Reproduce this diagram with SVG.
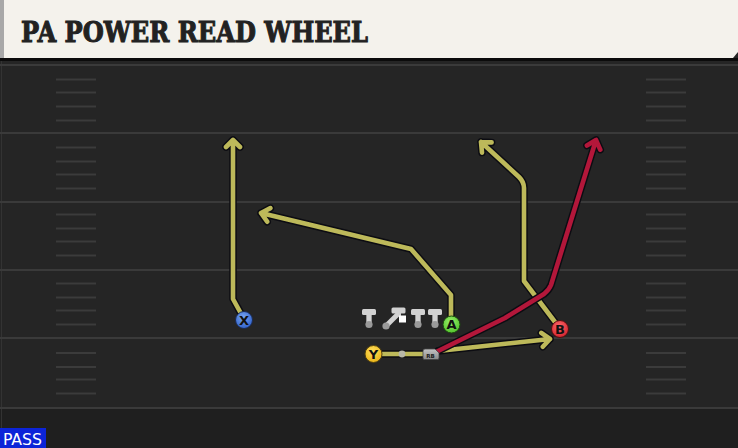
<svg xmlns="http://www.w3.org/2000/svg" width="738" height="448" viewBox="0 0 738 448">
<style>
.yl{stroke:#3a3a3a;stroke-width:2;fill:none}
.hash{stroke:#3b3b3b;stroke-width:2;fill:none}
.out{fill:none;stroke:#0c0c12;stroke-width:7.5;stroke-linejoin:round;stroke-linecap:round}
.ylw{fill:none;stroke:#bdb95a;stroke-width:4.6;stroke-linejoin:round;stroke-linecap:round}
.red{fill:none;stroke:#b3173a;stroke-width:4.6;stroke-linejoin:round;stroke-linecap:round}
.lbl{font-family:"DejaVu Sans",sans-serif;font-weight:bold;font-size:13px;fill:#111;text-anchor:middle}
.bar{fill:#d2d2d2}
.foot{fill:#9a9a9a}
</style>
<defs>
<radialGradient id="gB" cx="0.45" cy="0.35" r="0.7"><stop offset="0" stop-color="#7aa6f0"/><stop offset="1" stop-color="#2a5cc8"/></radialGradient>
<radialGradient id="gG" cx="0.45" cy="0.35" r="0.7"><stop offset="0" stop-color="#9af06a"/><stop offset="1" stop-color="#4cbf28"/></radialGradient>
<radialGradient id="gR" cx="0.45" cy="0.35" r="0.7"><stop offset="0" stop-color="#ff6a6a"/><stop offset="1" stop-color="#d01e2a"/></radialGradient>
<radialGradient id="gY" cx="0.45" cy="0.35" r="0.7"><stop offset="0" stop-color="#ffe060"/><stop offset="1" stop-color="#e8b010"/></radialGradient>
<linearGradient id="gRB" x1="0" y1="0" x2="0" y2="1"><stop offset="0" stop-color="#c4c4c4"/><stop offset="1" stop-color="#8a8a8a"/></linearGradient>
<g id="lin">
<rect class="foot" x="-2.5" y="4" width="5" height="10"/>
<rect class="bar" x="-7" y="-1" width="14" height="6" rx="1.5"/>
<rect class="bar" x="-2.5" y="4" width="5" height="9"/>
<circle class="foot" cx="0" cy="14.5" r="3.6"/>
</g>
</defs>
<!-- field -->
<rect x="0" y="0" width="738" height="448" fill="#252525"/>
<rect x="0" y="408" width="738" height="40" fill="#1f1f1f"/>
<line x1="1.5" y1="60" x2="1.5" y2="448" stroke="#333" stroke-width="1"/>
<g id="yardlines">
<line class="yl" x1="0" y1="65" x2="738" y2="65"/>
<line class="yl" x1="0" y1="133" x2="738" y2="133"/>
<line class="yl" x1="0" y1="202" x2="738" y2="202"/>
<line class="yl" x1="0" y1="270" x2="738" y2="270"/>
<line class="yl" x1="0" y1="338" x2="738" y2="338"/>
<line class="yl" x1="0" y1="408" x2="738" y2="408"/>
</g>
<g id="hashes">
<path class="hash" d="M56,79.5H96M56,92.5H96M56,106.5H96M56,120.5H96M56,147.5H96M56,161.5H96M56,174.5H96M56,188.5H96M56,214.5H96M56,228.5H96M56,241.5H96M56,255.5H96M56,283.5H96M56,297.5H96M56,310.5H96M56,324.5H96M56,353H96M56,367H96M56,379.5H96M56,393.5H96"/>
<path class="hash" d="M646,79.5H686M646,92.5H686M646,106.5H686M646,120.5H686M646,147.5H686M646,161.5H686M646,174.5H686M646,188.5H686M646,214.5H686M646,228.5H686M646,241.5H686M646,255.5H686M646,283.5H686M646,297.5H686M646,310.5H686M646,324.5H686M646,353H686M646,367H686M646,379.5H686M646,393.5H686"/>
</g>
<!-- header -->
<g id="header">
<rect x="0" y="58" width="738" height="3" fill="#0b0b0b"/>
<path d="M0,0H738V52L733,58H0Z" fill="#f4f2ec"/>
<rect x="0" y="0" width="4" height="58" fill="#a8a8a8"/>
<text x="21" y="42" font-family="DejaVu Serif, serif" font-weight="bold" font-size="27" fill="#222" stroke="#222" stroke-width="1" textLength="347" lengthAdjust="spacingAndGlyphs">PA POWER READ WHEEL</text>
</g>
<!-- connectors -->
<g id="routes">
<path class="out" d="M244,319 L233,299 L233,140 M226,147 L233,140 L240,147"/>
<path class="ylw" d="M244,319 L233,299 L233,140 M226,147 L233,140 L240,147"/>
<path class="out" d="M451,324 L451,295 L411,249 L261,213 M270.4,208.1 L261,213 L267.2,221.7"/>
<path class="ylw" d="M451,324 L451,295 L411,249 L261,213 M270.4,208.1 L261,213 L267.2,221.7"/>
<path class="out" d="M558,326 L524,281 L524,188 Q524,182 519,177 L481,142 M491.6,142.4 L481,142 L482,152.6"/>
<path class="ylw" d="M558,326 L524,281 L524,188 Q524,182 519,177 L481,142 M491.6,142.4 L481,142 L482,152.6"/>
<path class="out" d="M373,354 L424,354"/>
<path class="ylw" d="M373,354 L424,354"/>
<path class="out" d="M438,351 L550,339 M542.8,346.8 L550,339 L541.3,332.9"/>
<path class="ylw" d="M438,351 L550,339 M542.8,346.8 L550,339 L541.3,332.9"/>
<path class="out" d="M436,352 L505,318 L544,294 Q549,290 551,285 L596,140 M600.3,149.7 L596,140 L586.9,145.5"/>
<path class="red" d="M436,352 L505,318 L544,294 Q549,290 551,285 L596,140 M600.3,149.7 L596,140 L586.9,145.5"/>
</g>
<!-- line -->
<g id="oline">
<use href="#lin" x="369" y="310"/>
<g id="pull">
<line x1="386" y1="326" x2="398" y2="314" stroke="#d2d2d2" stroke-width="5" stroke-linecap="round"/>
<circle class="foot" cx="386" cy="326" r="3.6"/>
<rect class="bar" x="391.5" y="307.5" width="14" height="6" rx="1.5"/>
<rect class="bar" x="396" y="311" width="5" height="5"/>
<rect x="399" y="315.5" width="7" height="7" fill="#ffffff"/>
</g>
<use href="#lin" x="418" y="310"/>
<use href="#lin" x="435" y="310"/>
</g>
<g id="dot"><circle cx="402" cy="354" r="3.4" fill="#b8b8a8"/></g>
<g id="RB">
<path d="M423,351 Q423,349 425,349 L435,349 L439,353 L439,358 Q439,359.5 437.5,359.5 L424.5,359.5 Q423,359.5 423,358 Z" fill="url(#gRB)" stroke="#444" stroke-width="0.8"/>
<text x="430.5" y="357.5" font-family="DejaVu Sans, sans-serif" font-weight="bold" font-size="5.5" fill="#222" text-anchor="middle">RB</text>
</g>
<g id="X"><circle cx="244" cy="320" r="8.5" fill="url(#gB)" stroke="#1a2a50" stroke-width="1"/><text class="lbl" x="244" y="324.5">X</text></g>
<g id="A"><circle cx="451.5" cy="324.5" r="8.5" fill="url(#gG)" stroke="#1e4a10" stroke-width="1"/><text class="lbl" x="451.5" y="329">A</text></g>
<g id="B"><circle cx="560" cy="329" r="8.5" fill="url(#gR)" stroke="#501010" stroke-width="1"/><text class="lbl" x="560" y="333.5">B</text></g>
<g id="Y"><circle cx="373.5" cy="354" r="8.5" fill="url(#gY)" stroke="#504010" stroke-width="1"/><text class="lbl" x="373.5" y="358.5">Y</text></g>
<g id="pass">
<rect x="0" y="428" width="46" height="20" fill="#0c24d8"/>
<text x="3" y="445" font-family="DejaVu Sans Condensed, DejaVu Sans, sans-serif" font-size="16" fill="#ffffff" textLength="39" lengthAdjust="spacingAndGlyphs">PASS</text>
</g>
</svg>
